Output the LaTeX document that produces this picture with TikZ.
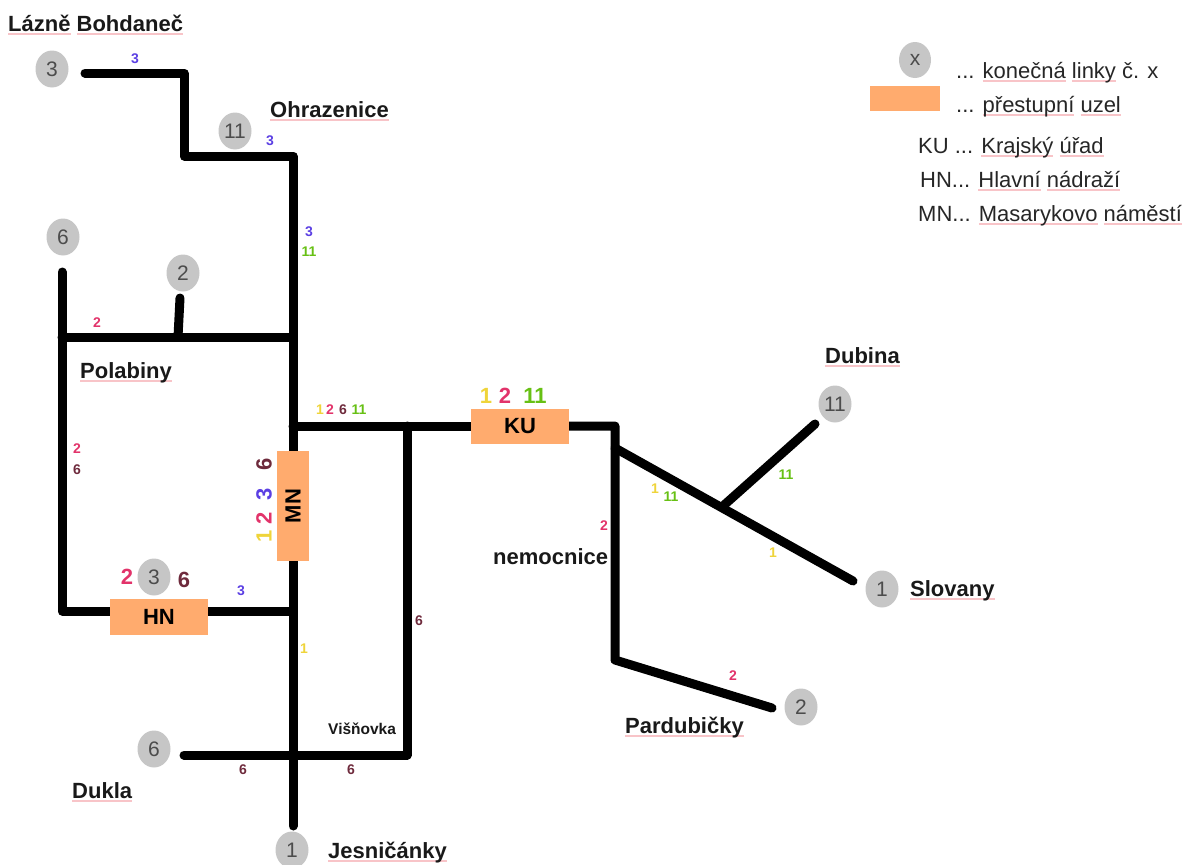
\documentclass[tikz,border=0pt]{standalone}
\usepackage{fontspec}
\setmainfont{Liberation Sans}
\usetikzlibrary{shapes.geometric}
\pgfdeclarelayer{bg}
\pgfsetlayers{bg,main}
\definecolor{cyel}{HTML}{EFD43A}
\definecolor{cred}{HTML}{E2336A}
\definecolor{cpur}{HTML}{5B3FE3}
\definecolor{cmar}{HTML}{6E2A3C}
\definecolor{cgrn}{HTML}{67C014}
\definecolor{csq}{HTML}{F8C4C8}
\definecolor{cbox}{HTML}{FFAB6E}
\definecolor{cend}{HTML}{C6C6C6}
\newsavebox{\sqbox}
\newcommand{\sq}[1]{\sbox{\sqbox}{#1}\smash{\rlap{\textcolor{csq}{\rule[-3.6pt]{\wd\sqbox}{1.4pt}}}}\usebox{\sqbox}}
\tikzset{
  x=1pt,y=-1pt,
  track/.style={line width=9pt,line cap=round,line join=round,black},
  endpt/.style={ellipse,fill=cend,draw=none,minimum width=33pt,minimum height=37pt,inner sep=0pt,text=black!70,font=\fontsize{21}{23}\selectfont},
  hub/.style={fill=cbox,draw=none,inner sep=0pt,font=\fontsize{22}{24}\selectfont\bfseries,text=black},
  place/.style={inner sep=0pt,anchor=base west,font=\fontsize{22}{24}\selectfont\bfseries,text=black!90},
  legend/.style={inner sep=0pt,anchor=base west,font=\fontsize{22}{24}\selectfont,text=black!85},
  num/.style={inner sep=0pt,font=\fontsize{14}{16}\selectfont\bfseries},
  bignum/.style={inner sep=0pt,font=\fontsize{22}{24}\selectfont\bfseries},
}
\begin{document}
\begin{tikzpicture}
\useasboundingbox (0,0) rectangle (1195,865);
% hubs
\node[hub,minimum width=98pt,minimum height=36pt] (hn) at (159,617) {HN};
\node[hub,minimum width=98pt,minimum height=35pt] (ku) at (520,426) {KU};
\node[hub,rotate=90,minimum width=110pt,minimum height=32pt] (mn) at (293,506) {MN};
% junctions and free ends
\coordinate (a3) at (85,73);
\coordinate (b3) at (184,73);
\coordinate (c3) at (184,156);
\coordinate (d3) at (293,156);
\coordinate (pol) at (293,337);
\coordinate (top) at (293,426);
\coordinate (hnj) at (293,611);
\coordinate (duj) at (293,755);
\coordinate (jes) at (293,826);
\coordinate (e6) at (62,272);
\coordinate (f6) at (62,337);
\coordinate (g6) at (62,611);
\coordinate (e2) at (180,298);
\coordinate (f2) at (178,337);
\coordinate (vi) at (407,426);
\coordinate (vib) at (407,755);
\coordinate (du) at (184,755);
\coordinate (cor) at (615,426);
\coordinate (spl) at (615,448);
\coordinate (par) at (615,660);
\coordinate (p2) at (772,708);
\coordinate (slo) at (853,581);
\coordinate (mid) at (723,506);
\coordinate (dub) at (815,424);
\begin{pgfonlayer}{bg}
\draw[track] (a3) -- (b3) -- (c3) -- (d3) -- (pol) -- (top) -- (mn.east);
\draw[track] (mn.west) -- (hnj) -- (duj) -- (jes);
\draw[track] (e6) -- (f6) -- (g6) -- (g6 -| hn.west);
\draw[track] (hnj -| hn.east) -- (hnj);
\draw[track] (f6) -- (pol);
\draw[track] (e2) -- (f2);
\draw[track] (top) -- (vi) -- (ku.west);
\draw[track] (vi) -- (vib) -- (du);
\draw[track] (ku.east) -- (cor) -- (par) -- (p2);
\draw[track] (spl) -- (slo);
\draw[track] (mid) -- (dub);
\end{pgfonlayer}
% terminals
\node[endpt] (t3a) at (52,69) {3};
\node[endpt] (t11a) at (235,131) {11};
\node[endpt] (t6a) at (63,237) {6};
\node[endpt] (t2a) at (183,273) {2};
\node[endpt] (t3b) at (154,577) {3};
\node[endpt] (t6b) at (154,749) {6};
\node[endpt] (t1a) at (292,850) {1};
\node[endpt] (t11b) at (835,404) {11};
\node[endpt] (t1b) at (882,589) {1};
\node[endpt] (t2b) at (801,707) {2};
% place names
\node[place] (n1) at (8,31) {\sq{Lázně} \sq{Bohdaneč}};
\node[place] (n2) at (270,117) {\sq{Ohrazenice}};
\node[place] (n3) at (80,378) {\sq{Polabiny}};
\node[place] (n4) at (825,363) {\sq{Dubina}};
\node[place] (n5) at (493,564) {nemocnice};
\node[place] (n6) at (910,596) {\sq{Slovany}};
\node[place] (n7) at (625,733) {\sq{Pardubičky}};
\node[place] (n8) at (72,798) {\sq{Dukla}};
\node[place] (n9) at (328,858) {\sq{Jesničánky}};
\node[place,font=\fontsize{15.5}{17}\selectfont\bfseries] (n10) at (328,734) {Višňovka};
% line numbers
\node[num,text=cpur] (l1) at (135,59) {3};
\node[num,text=cpur] (l2) at (270,141) {3};
\node[num,text=cpur] (l3) at (309,232) {3};
\node[num,text=cgrn] (l4) at (309,252) {11};
\node[num,text=cred] (l5) at (97,323) {2};
\node[num,text=cred] (l6) at (77,449) {2};
\node[num,text=cmar] (l7) at (77,470) {6};
\node[num,text=cyel] (l8) at (320,410) {1};
\node[num,text=cred] (l9) at (330,410) {2};
\node[num,text=cmar] (l10) at (343,410) {6};
\node[num,text=cgrn] (l11) at (359,410) {11};
\node[num,text=cpur] (l12) at (241,591) {3};
\node[num,text=cyel] (l13) at (304,649) {1};
\node[num,text=cmar] (l14) at (419,621) {6};
\node[num,text=cmar] (l15) at (243,770) {6};
\node[num,text=cmar] (l16) at (351,770) {6};
\node[num,text=cred] (l17) at (604,526) {2};
\node[num,text=cyel] (l18) at (655,489) {1};
\node[num,text=cgrn] (l19) at (671,497) {11};
\node[num,text=cgrn] (l20) at (786,475) {11};
\node[num,text=cyel] (l21) at (773,553) {1};
\node[num,text=cred] (l22) at (733,676) {2};
\node[bignum,text=cyel] (b1) at (486,396) {1};
\node[bignum,text=cred] (b2) at (505,396) {2};
\node[bignum,text=cgrn] (b3n) at (535,396) {11};
\node[bignum,text=cred] (b4) at (127,577) {2};
\node[bignum,text=cmar] (b5) at (184,580) {6};
\node[bignum,text=cyel,rotate=90] (b6) at (264,536) {1};
\node[bignum,text=cred,rotate=90] (b7) at (264,518) {2};
\node[bignum,text=cpur,rotate=90] (b8) at (264,494) {3};
\node[bignum,text=cmar,rotate=90] (b9) at (264,464) {6};
% legend
\node[endpt,minimum width=32pt,minimum height=36pt] (lx) at (915,60) {x};
\node[fill=cbox,draw=none,inner sep=0pt,minimum width=70pt,minimum height=25pt] (lb) at (905,98) {};
\node[legend] (t1) at (956,78) {... \sq{konečná} \sq{linky} č. x};
\node[legend] (t2) at (956,112) {... \sq{přestupní} \sq{uzel}};
\node[legend] (t3) at (918,153) {KU ... \sq{Krajský} \sq{úřad}};
\node[legend] (t4) at (920,187) {HN... \sq{Hlavní} \sq{nádraží}};
\node[legend] (t5) at (918,221) {MN... \sq{Masarykovo} \sq{náměstí}};
\end{tikzpicture}
\end{document}
